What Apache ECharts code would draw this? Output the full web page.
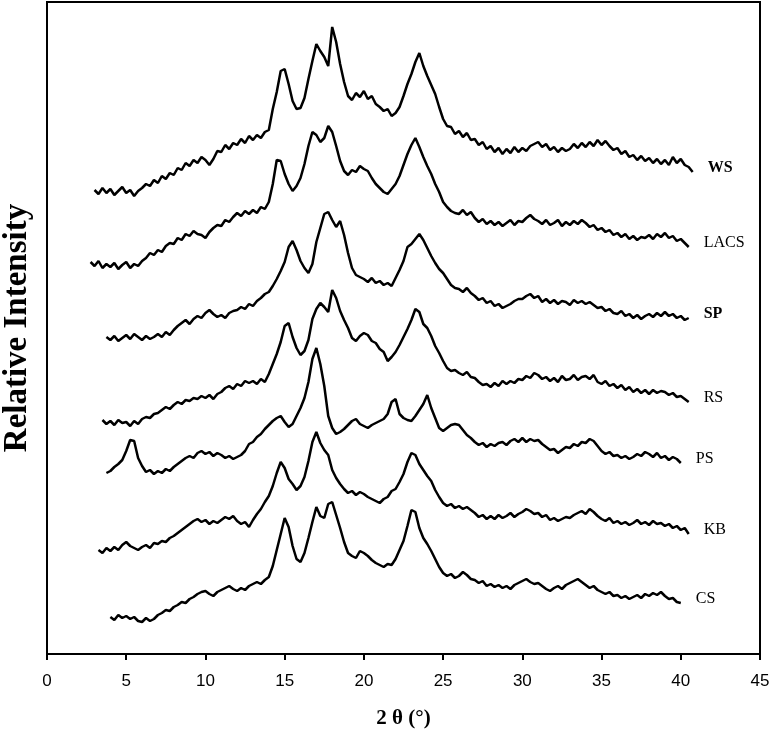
<!DOCTYPE html>
<html>
<head>
<meta charset="utf-8">
<title>XRD patterns</title>
<script src="https://cdn.jsdelivr.net/npm/echarts@6/dist/echarts.min.js"></script>
<style>
  html, body { margin: 0; padding: 0; background: #fff; }
  #chart { width: 774px; height: 740px; }
</style>
</head>
<body>
<div id="chart"></div>
<script>
// 2θ step between readings (degrees)
const step = 0.25;

// series names, top to bottom
const names = ['WS', 'LACS', 'SP', 'RS', 'PS', 'KB', 'CS'];
const labelWeight = ['bold', 'normal', 'bold', 'normal', 'normal', 'normal', 'normal'];

// first 2θ of each pattern
const starts = [3.0, 2.75, 3.75, 3.5, 3.75, 3.25, 4.0];

// relative intensity (stacked, arbitrary units), one row per degree
const ws = [
  464, 460, 466, 461,
  465, 459, 463, 467,
  461, 464, 458, 463,
  466, 470, 468, 474,
  471, 478, 475, 481,
  479, 486, 484, 491,
  488, 494, 491, 497,
  494, 489, 495, 503,
  502, 509, 505, 511,
  509, 515, 511, 518,
  514, 519, 516, 522,
  524, 545, 562, 583,
  585, 570, 553, 545,
  546, 556, 575, 593,
  610, 603, 597, 588,
  627, 612, 590, 572,
  558, 554, 561, 557,
  563, 555, 558, 550,
  547, 543, 545, 538,
  541, 547, 558, 570,
  580, 592, 601, 588,
  578, 569, 560, 547,
  535, 528, 527, 520,
  523, 517, 521, 514,
  515, 509, 512, 505,
  508, 502, 506, 500,
  505, 501, 507, 502,
  506, 503, 508, 510,
  512, 507, 510, 504,
  507, 502, 506, 503,
  505, 510, 506, 511,
  507, 512, 508, 514,
  509, 513, 508, 504,
  506, 500, 503, 497,
  499, 494, 498, 493,
  496, 491, 495, 490,
  494, 489, 497, 491,
  495, 489, 487, 482
];

const lacs = [
  392,
  388, 393, 386, 390,
  387, 391, 385, 389,
  392, 386, 390, 388,
  393, 396, 401, 399,
  404, 402, 408, 411,
  410, 416, 414, 420,
  418, 423, 420, 419,
  416, 422, 426, 429,
  428, 434, 432, 437,
  441, 438, 443, 440,
  444, 441, 447, 445,
  452, 470, 494, 493,
  480, 470, 463, 468,
  476, 490, 508, 522,
  519, 512, 516, 528,
  522, 508, 493, 483,
  479, 484, 482, 488,
  485, 483, 476, 470,
  466, 462, 460, 465,
  470, 478, 489, 500,
  509, 516, 507, 497,
  488, 480, 470, 462,
  452, 447, 443, 441,
  440, 444, 439, 442,
  436, 432, 435, 430,
  433, 429, 432, 428,
  431, 434, 429, 433,
  432, 436, 439, 435,
  433, 430, 434, 429,
  431, 434, 428, 432,
  429, 433, 430, 434,
  431, 427, 429, 424,
  426, 422, 424, 419,
  421, 417, 420, 415,
  418, 414, 417, 416,
  419, 415, 420, 417,
  421, 416, 418, 413,
  415, 411, 407
];

const sp = [
  317,
  314, 318, 313, 316,
  319, 315, 320, 317,
  314, 318, 315, 317,
  320, 317, 322, 319,
  324, 328, 331, 334,
  330, 335, 338, 336,
  341, 344, 340, 337,
  339, 336, 341, 343,
  344, 347, 345, 350,
  348, 353, 356, 360,
  362, 368, 375, 383,
  392, 407, 413, 404,
  393, 386, 381, 390,
  412, 426, 440, 442,
  434, 427, 433, 419,
  401, 386, 379, 377,
  375, 372, 376, 371,
  373, 369, 371, 368,
  376, 384, 393, 407,
  410, 415, 420, 414,
  406, 398, 391, 385,
  381, 375, 369, 366,
  365, 362, 366, 361,
  358, 354, 356, 351,
  353, 348, 350, 346,
  348, 350, 353, 355,
  355, 358, 360, 356,
  358, 352, 355, 351,
  354, 350, 353, 352,
  349, 354, 351, 353,
  350, 352, 349, 346,
  347, 343, 345, 341,
  340, 343, 338, 340,
  336, 339, 335, 338,
  340, 337, 341, 338,
  342, 338, 340, 336,
  338, 334, 336
];

const rs = [
  234, 230,
  233, 229, 234, 231,
  232, 228, 233, 230,
  235, 237, 236, 240,
  241, 244, 247, 245,
  249, 252, 250, 254,
  253, 256, 255, 258,
  256, 259, 255, 260,
  262, 266, 268, 265,
  270, 268, 273, 271,
  273, 270, 275, 272,
  280, 290, 300, 312,
  328, 331, 317, 306,
  299, 303, 314, 335,
  345, 351, 347, 342,
  364, 356, 343, 334,
  326, 316, 313, 318,
  321, 319, 313, 311,
  305, 302, 293, 297,
  302, 309, 317, 325,
  334, 345, 342, 330,
  326, 318, 308, 301,
  293, 286, 283, 284,
  281, 279, 282, 277,
  276, 272, 269, 270,
  267, 271, 268, 273,
  270, 273, 271, 275,
  274, 278, 276, 281,
  279, 275, 277, 273,
  276, 272, 278, 274,
  275, 279, 274, 277,
  278, 275, 279, 272,
  270, 273, 268, 270,
  266, 269, 264, 267,
  262, 265, 261, 264,
  260, 264, 261, 263,
  262, 259, 261, 257,
  258, 255, 252
];

const ps = [
  181,
  183, 187, 190, 194,
  203, 214, 213, 196,
  188, 182, 184, 180,
  183, 181, 185, 183,
  187, 190, 193, 196,
  198, 196, 201, 203,
  200, 202, 198, 201,
  199, 196, 198, 195,
  197, 199, 203, 210,
  212, 217, 220, 225,
  229, 233, 236, 238,
  232, 227, 230, 238,
  246, 256, 272, 295,
  306, 290, 268, 238,
  226, 220, 222, 225,
  229, 233, 235, 230,
  228, 226, 229, 231,
  233, 235, 240, 252,
  255, 240, 236, 234,
  233, 238, 244, 250,
  259, 246, 236, 226,
  223, 226, 229, 230,
  229, 224, 219, 216,
  212, 209, 211, 207,
  210, 208, 211, 212,
  209, 213, 215, 212,
  216, 212, 215, 213,
  214, 210, 207, 204,
  205, 201, 204, 207,
  206, 210, 208, 212,
  211, 215, 213, 208,
  203, 200, 202, 198,
  199, 196, 198, 195,
  197, 200, 198, 202,
  200, 197, 201, 196,
  198, 194, 197, 195,
  191
];

const kb = [
  104, 101, 106,
  103, 107, 104, 109,
  112, 108, 106, 104,
  107, 109, 106, 111,
  110, 113, 112, 116,
  118, 121, 124, 127,
  130, 133, 135, 132,
  134, 130, 133, 131,
  134, 137, 135, 138,
  133, 130, 132, 127,
  134, 140, 145, 152,
  158, 168, 181, 192,
  186, 175, 170, 164,
  168, 177, 193, 212,
  222, 211, 204, 199,
  184, 176, 170, 165,
  161, 163, 159, 162,
  160, 157, 155, 153,
  151, 155, 157, 163,
  165, 172, 180, 192,
  201, 199, 190, 184,
  178, 173, 164, 157,
  151, 148, 150, 146,
  148, 145, 147, 144,
  141, 137, 139, 135,
  138, 135, 139, 136,
  138, 141, 137, 140,
  142, 145, 143, 140,
  141, 137, 139, 134,
  136, 133, 135, 137,
  136, 139, 141, 143,
  140, 145, 142, 138,
  135, 133, 136, 131,
  133, 130, 132, 129,
  131, 134, 130, 132,
  129, 133, 130, 131,
  128, 130, 126, 128,
  124, 126, 120
];

const cs = [
  37, 34, 39, 36,
  38, 35, 37, 33,
  32, 36, 33, 35,
  39, 41, 44, 43,
  47, 49, 52, 51,
  55, 57, 60, 62,
  63, 60, 58, 62,
  64, 66, 68, 65,
  63, 66, 64, 68,
  70, 72, 70, 74,
  77, 88, 104, 120,
  136, 127, 108, 95,
  92, 101, 116, 132,
  147, 138, 136, 150,
  152, 139, 126, 112,
  101, 98, 96, 103,
  101, 98, 94, 91,
  89, 87, 90, 89,
  95, 104, 113, 128,
  144, 142, 126, 116,
  110, 103, 95, 87,
  81, 78, 80, 76,
  78, 82, 79, 75,
  74, 71, 73, 68,
  70, 67, 69, 66,
  68, 65, 69, 71,
  73, 75, 72, 70,
  71, 68, 65, 63,
  66, 68, 65, 69,
  71, 73, 75, 72,
  69, 66, 68, 64,
  62, 60, 62, 58,
  59, 56, 58, 55,
  57, 59, 56, 60,
  58, 61, 59, 62,
  58, 55, 56, 52,
  51
];

const patterns = [ws, lacs, sp, rs, ps, kb, cs];

const serif = '"Liberation Serif", "Times New Roman", serif';

const series = patterns.map((vals, k) => ({
  name: names[k],
  type: 'line',
  data: vals.map((v, i) => [starts[k] + i * step, v]),
  showSymbol: false,
  lineStyle: { color: '#000', width: 2.5 },
  endLabel: {
    show: true,
    formatter: '{a}',
    distance: 15,
    offset: [0, -4],
    color: '#000',
    fontFamily: serif,
    fontSize: 16,
    fontWeight: labelWeight[k]
  }
}));

const option = {
  animation: false,
  grid: {
    left: 47, right: 14, top: 2, bottom: 86,
    outerBoundsMode: 'none',
    show: true, borderColor: '#000', borderWidth: 2
  },
  xAxis: {
    type: 'value',
    min: 0, max: 45, interval: 5,
    name: '2 θ (°)',
    nameLocation: 'middle',
    nameGap: 54,
    nameTextStyle: { fontFamily: serif, fontWeight: 'bold', fontSize: 21, color: '#000' },
    axisLine: { lineStyle: { color: '#000', width: 2 } },
    axisTick: { length: 6, lineStyle: { color: '#000', width: 2 } },
    axisLabel: { color: '#000', fontSize: 17, margin: 19, fontFamily: '"Liberation Sans", Arial, sans-serif' },
    splitLine: { show: false }
  },
  yAxis: {
    type: 'value',
    min: 0, max: 652,
    name: 'Relative Intensity',
    nameLocation: 'middle',
    nameGap: 13,
    nameTextStyle: { fontFamily: serif, fontWeight: 'bold', fontSize: 33, color: '#000' },
    axisLine: { show: true, lineStyle: { color: '#000', width: 2 } },
    axisTick: { show: false },
    axisLabel: { show: false },
    splitLine: { show: false }
  },
  series: series
};

const myChart = echarts.init(document.getElementById('chart'));
myChart.setOption(option);
</script>
</body>
</html>
